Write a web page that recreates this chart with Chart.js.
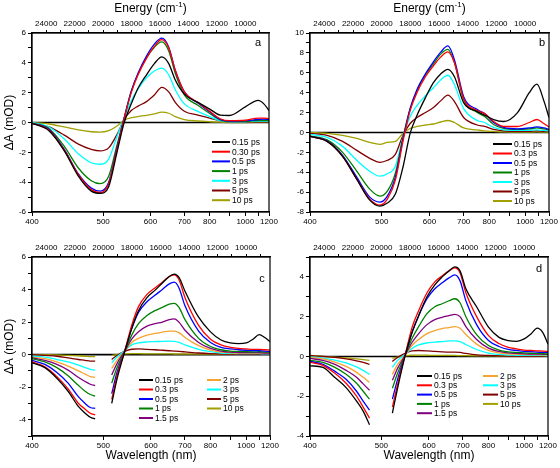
<!DOCTYPE html>
<html>
<head>
<meta charset="utf-8">
<script src="https://cdn.jsdelivr.net/npm/chart.js@4/dist/chart.umd.min.js"></script>
<style>
body { margin: 0; background: #fff; }
#wrap { position: relative; width: 560px; height: 468px; }
canvas { position: absolute; }
</style>
</head>
<body>
<div id="wrap">
  <canvas id="ca" width="280" height="234" style="left:0;top:0"></canvas>
  <canvas id="cb" width="280" height="234" style="left:280px;top:0"></canvas>
  <canvas id="cc" width="280" height="234" style="left:0;top:234px"></canvas>
  <canvas id="cd" width="280" height="234" style="left:280px;top:234px"></canvas>
</div>
<script>
// wavelengths (nm) and dA (mOD)
var wlA = [400, 420, 440, 460, 480, 495, 510, 525, 540, 555, 570, 590, 610, 630, 650, 670, 700, 750, 800, 850, 900, 1000, 1100, 1150, 1200];
var a015 = [-0.05, -0.55, -1.9, -3.6, -4.6, -4.75, -4.3, -2.1, 0.0, 1.25, 2.3, 3.2, 3.95, 4.4, 3.95, 2.85, 1.9, 1.35, 0.9, 0.5, 0.47, 1.05, 1.48, 1.25, 0.8];
var a030 = [-0.05, -0.5, -1.85, -3.5, -4.5, -4.7, -4.1, -1.9, 0.25, 2.0, 3.2, 4.3, 5.1, 5.55, 5.0, 3.5, 2.05, 1.35, 0.75, 0.25, 0.12, 0.15, 0.3, 0.3, 0.25];
var a05 = [-0.05, -0.45, -1.8, -3.45, -4.4, -4.6, -4.0, -1.8, 0.3, 2.1, 3.3, 4.45, 5.25, 5.65, 5.05, 3.5, 2.05, 1.3, 0.7, 0.2, 0.1, 0.12, 0.2, 0.22, 0.2];
var a1 = [-0.05, -0.4, -1.6, -3.05, -3.9, -4.1, -3.6, -1.6, 0.3, 2.1, 3.25, 4.35, 5.05, 5.4, 4.8, 3.3, 1.85, 1.15, 0.6, 0.18, 0.08, 0.08, 0.15, 0.15, 0.15];
var a3 = [0, -0.3, -1.1, -2.1, -2.7, -2.8, -2.45, -1.0, 0.3, 1.45, 2.25, 3.0, 3.45, 3.65, 3.2, 2.2, 1.25, 0.75, 0.4, 0.12, 0.05, 0.05, 0.1, 0.1, 0.1];
var a5 = [0, -0.3, -0.85, -1.45, -1.8, -1.9, -1.7, -0.85, 0.2, 0.8, 1.1, 1.4, 1.85, 2.35, 2.05, 1.35, 0.75, 0.5, 0.3, 0.12, 0.05, 0.03, 0.05, 0.05, 0.05];
var a10 = [0, -0.1, -0.3, -0.5, -0.62, -0.65, -0.55, -0.25, 0.15, 0.32, 0.4, 0.48, 0.58, 0.7, 0.62, 0.4, 0.2, 0.1, 0.05, 0.02, 0, 0, 0.02, 0.02, 0.02];
var labelsA = ['0.15 ps', '0.30 ps', '0.5 ps', '1 ps', '3 ps', '5 ps', '10 ps'];

var wlB = [400, 420, 440, 460, 480, 497, 510, 525, 540, 555, 570, 590, 610, 630, 650, 670, 700, 750, 780, 820, 870, 950, 1030, 1090, 1150, 1200];
var b015 = [-0.4, -0.9, -2.4, -4.7, -6.8, -7.4, -7.1, -6.2, -3.5, -0.1, 1.7, 3.5, 5.0, 5.9, 6.35, 5.6, 3.0, 2.1, 1.75, 1.3, 1.1, 2.0, 4.0, 4.85, 3.2, 1.5];
var b03 = [-0.4, -0.9, -2.4, -4.7, -6.7, -7.3, -6.7, -4.8, -0.9, 2.2, 4.0, 5.6, 6.7, 7.6, 8.1, 7.0, 3.4, 2.2, 1.9, 1.1, 0.6, 0.6, 1.0, 1.3, 0.9, 0.55];
var b05 = [-0.4, -0.85, -2.3, -4.5, -6.5, -7.0, -6.4, -4.5, -0.7, 2.4, 4.3, 5.9, 7.1, 8.1, 8.7, 7.3, 3.6, 2.3, 1.9, 1.0, 0.5, 0.35, 0.45, 0.55, 0.45, 0.3];
var b1 = [-0.35, -0.75, -2.0, -3.9, -5.7, -6.4, -5.9, -4.1, -0.5, 2.4, 4.2, 5.8, 6.9, 7.9, 8.35, 7.0, 3.3, 2.0, 1.6, 0.8, 0.4, 0.3, 0.35, 0.45, 0.35, 0.25];
var b3 = [-0.2, -0.5, -1.4, -2.8, -3.9, -4.4, -4.15, -3.4, -0.5, 1.6, 2.7, 3.7, 4.5, 5.3, 5.75, 4.8, 2.4, 1.2, 1.0, 0.5, 0.25, 0.2, 0.2, 0.25, 0.2, 0.15];
var b5 = [-0.1, -0.3, -0.9, -1.8, -2.6, -3.0, -2.8, -2.2, -0.3, 0.9, 1.5, 2.0, 2.5, 3.2, 3.75, 3.1, 1.5, 0.75, 0.6, 0.3, 0.15, 0.1, 0.1, 0.15, 0.1, 0.1];
var b10 = [0, -0.1, -0.3, -0.6, -1.0, -1.2, -1.0, -0.9, -0.1, 0.4, 0.6, 0.75, 0.85, 1.05, 1.2, 1.0, 0.45, 0.25, 0.15, 0.1, 0.05, 0.03, 0.03, 0.05, 0.03, 0.03];
var labelsB = ['0.15 ps', '0.3 ps', '0.5 ps', '1 ps', '3 ps', '5 ps', '10 ps'];

// null = detection gap around the pump
var wlC = [400, 415, 430, 445, 460, 470, 478, 486, 500, 515, 525, 540, 555, 570, 590, 610, 630, 650, 665, 680, 700, 750, 800, 850, 900, 950, 1000, 1050, 1100, 1150, 1200];
var c015 = [-0.5, -0.8, -1.45, -2.25, -3.2, -3.6, -3.85, -3.95, null, -3.0, -1.5, 0.15, 1.6, 2.7, 3.5, 3.95, 4.4, 4.8, 4.95, 4.75, 3.9, 2.3, 1.4, 0.9, 0.72, 0.68, 0.72, 0.95, 1.23, 1.05, 0.8];
var c03 = [-0.45, -0.75, -1.35, -2.1, -3.0, -3.35, -3.6, -3.7, null, -2.75, -1.3, 0.2, 1.8, 2.95, 3.7, 4.1, 4.45, 4.8, 4.9, 4.6, 3.5, 1.8, 0.95, 0.6, 0.45, 0.38, 0.35, 0.32, 0.32, 0.3, 0.28];
var c05 = [-0.35, -0.6, -1.1, -1.75, -2.6, -3.0, -3.25, -3.3, null, -2.4, -1.1, 0.2, 1.6, 2.6, 3.25, 3.65, 4.0, 4.35, 4.45, 4.1, 3.0, 1.45, 0.75, 0.45, 0.35, 0.3, 0.27, 0.25, 0.25, 0.22, 0.2];
var c1 = [-0.25, -0.45, -0.8, -1.3, -1.9, -2.25, -2.45, -2.55, null, -1.75, -0.8, 0.2, 1.2, 1.9, 2.4, 2.7, 2.9, 3.1, 3.15, 2.9, 2.15, 1.0, 0.5, 0.3, 0.22, 0.2, 0.18, 0.17, 0.18, 0.16, 0.15];
var c15 = [-0.2, -0.35, -0.6, -0.95, -1.4, -1.65, -1.82, -1.9, null, -1.25, -0.55, 0.2, 0.95, 1.4, 1.75, 1.9, 2.0, 2.15, 2.2, 2.0, 1.5, 0.75, 0.38, 0.22, 0.15, 0.13, 0.12, 0.12, 0.12, 0.1, 0.1];
var c2 = [-0.15, -0.25, -0.45, -0.7, -1.0, -1.2, -1.35, -1.4, null, -0.85, -0.35, 0.2, 0.75, 1.0, 1.2, 1.3, 1.38, 1.45, 1.45, 1.35, 1.05, 0.55, 0.28, 0.16, 0.12, 0.1, 0.1, 0.09, 0.1, 0.08, 0.08];
var c3 = [-0.1, -0.15, -0.3, -0.45, -0.65, -0.8, -0.9, -0.95, null, -0.5, -0.15, 0.25, 0.6, 0.72, 0.78, 0.8, 0.82, 0.83, 0.82, 0.75, 0.6, 0.33, 0.18, 0.1, 0.08, 0.06, 0.06, 0.06, 0.06, 0.05, 0.05];
var c5 = [0, -0.05, -0.1, -0.2, -0.3, -0.35, -0.4, -0.4, null, -0.3, -0.05, 0.2, 0.33, 0.35, 0.32, 0.3, 0.27, 0.24, 0.22, 0.2, 0.17, 0.1, 0.06, 0.04, 0.03, 0.02, 0.02, 0.02, 0.02, 0.02, 0.02];
var c10 = [0, 0, -0.02, -0.05, -0.08, -0.1, -0.12, -0.12, null, -0.05, 0, 0.05, 0.06, 0.06, 0.05, 0.05, 0.05, 0.05, 0.04, 0.04, 0.04, 0.03, 0.03, 0.02, 0.02, 0.02, 0.02, 0.02, 0.02, 0.02, 0.02];

var wlD = [400, 415, 430, 445, 460, 470, 480, 500, 520, 530, 545, 560, 575, 595, 615, 635, 655, 673, 690, 710, 750, 800, 850, 900, 950, 1000, 1050, 1100, 1150, 1200];
var d015 = [-0.47, -0.55, -1.06, -1.57, -2.25, -2.75, -3.43, null, -2.85, -1.6, 0.0, 1.2, 2.05, 3.0, 3.6, 4.0, 4.3, 4.5, 4.3, 3.4, 2.5, 1.47, 0.96, 0.8, 0.76, 0.88, 1.13, 1.42, 1.2, 0.62];
var d03 = [-0.3, -0.45, -0.85, -1.35, -2.0, -2.55, -3.1, null, -2.55, -1.4, 0.05, 1.45, 2.3, 3.2, 3.75, 4.05, 4.3, 4.45, 4.2, 3.2, 2.0, 1.05, 0.65, 0.45, 0.38, 0.32, 0.3, 0.28, 0.27, 0.25];
var d05 = [-0.25, -0.4, -0.75, -1.15, -1.75, -2.25, -2.7, null, -2.15, -1.15, 0.05, 1.2, 2.05, 2.9, 3.4, 3.7, 3.95, 4.1, 3.8, 2.8, 1.6, 0.8, 0.5, 0.35, 0.3, 0.26, 0.24, 0.22, 0.2, 0.2];
var d1 = [-0.2, -0.3, -0.55, -0.9, -1.35, -1.75, -2.15, null, -1.6, -0.85, 0.05, 0.9, 1.5, 2.15, 2.5, 2.65, 2.8, 2.9, 2.7, 2.0, 1.1, 0.55, 0.32, 0.23, 0.2, 0.18, 0.16, 0.15, 0.14, 0.13];
var d15 = [-0.1, -0.2, -0.4, -0.7, -1.05, -1.38, -1.7, null, -1.2, -0.6, 0.05, 0.7, 1.15, 1.6, 1.85, 1.97, 2.05, 2.12, 2.0, 1.5, 0.85, 0.42, 0.25, 0.18, 0.15, 0.13, 0.12, 0.12, 0.11, 0.1];
var d2 = [-0.05, -0.12, -0.28, -0.5, -0.8, -1.05, -1.3, null, -0.9, -0.4, 0.05, 0.55, 0.85, 1.15, 1.3, 1.4, 1.45, 1.5, 1.42, 1.1, 0.62, 0.3, 0.18, 0.13, 0.11, 0.1, 0.09, 0.09, 0.08, 0.08];
var d3 = [-0.02, -0.08, -0.18, -0.32, -0.52, -0.7, -0.9, null, -0.55, -0.2, 0.1, 0.4, 0.58, 0.68, 0.72, 0.75, 0.78, 0.78, 0.75, 0.6, 0.35, 0.17, 0.1, 0.07, 0.06, 0.05, 0.05, 0.05, 0.05, 0.04];
var d5 = [0.05, 0, -0.05, -0.12, -0.22, -0.3, -0.4, null, -0.25, -0.05, 0.15, 0.28, 0.3, 0.28, 0.25, 0.23, 0.22, 0.22, 0.2, 0.15, 0.08, 0.05, 0.03, 0.02, 0.02, 0.02, 0.02, 0.02, 0.02, 0.02];
var d10 = [0.03, 0, -0.03, -0.07, -0.12, -0.16, -0.2, null, -0.1, -0.03, 0.03, 0.06, 0.07, 0.06, 0.05, 0.05, 0.05, 0.05, 0.04, 0.04, 0.03, 0.03, 0.02, 0.02, 0.02, 0.02, 0.02, 0.02, 0.02, 0.02];
var labelsCD = ['0.15 ps', '0.3 ps', '0.5 ps', '1 ps', '1.5 ps', '2 ps', '3 ps', '5 ps', '10 ps'];

// axis ticks
var wlTicks = [400, 500, 600, 700, 800, 900, 1000, 1100, 1200];
var wlLabels = [400, 500, 600, 700, 800, 1000, 1200];
var energyTicks = [24000, 23000, 22000, 21000, 20000, 19000, 18000, 17000, 16000, 15000, 14000, 13000, 12000, 11000, 10000, 9000];

var colors7 = ['#000000', '#ff0000', '#0000ff', '#008000', '#00ffff', '#800000', '#a0a000'];
var colors9 = ['#000000', '#ff0000', '#0000ff', '#008000', '#800080', '#f5a431', '#00ffff', '#800000', '#a0a000'];

var FONT = '"Liberation Sans", Arial, sans-serif';
Chart.defaults.font.family = FONT;
Chart.defaults.color = '#000';

var deco = {
    id: 'deco',
    beforeDatasetsDraw: function(chart) {
        var ctx = chart.ctx, area = chart.chartArea;
        var y0 = chart.scales.y.getPixelForValue(0);
        ctx.save();
        ctx.strokeStyle = '#000';
        ctx.lineWidth = 1.6;
        ctx.beginPath();
        ctx.moveTo(area.left, y0);
        ctx.lineTo(area.right, y0);
        ctx.stroke();
        ctx.restore();
    },
    afterDraw: function(chart) {
        var ctx = chart.ctx, area = chart.chartArea;
        var o = chart.options.plugins.deco;
        ctx.save();
        ctx.strokeStyle = '#000';
        ctx.lineWidth = 1.2;
        ctx.strokeRect(area.left, area.top, area.right - area.left, area.bottom - area.top);

        ctx.fillStyle = '#000';
        ctx.font = '11px ' + FONT;
        ctx.textAlign = 'center';
        ctx.textBaseline = 'middle';
        ctx.fillText(o.letter[0], o.letter[1], o.letter[2]);

        if (o.energyTitle) {
            var cx = (area.left + area.right) / 2;
            ctx.font = '12px ' + FONT;
            var w1 = ctx.measureText('Energy (cm').width;
            var w3 = ctx.measureText(')').width;
            ctx.font = '8px ' + FONT;
            var w2 = ctx.measureText('-1').width;
            var x = cx - (w1 + w2 + w3) / 2;
            ctx.textAlign = 'left';
            ctx.font = '12px ' + FONT;
            ctx.fillText('Energy (cm', x, 9);
            ctx.font = '8px ' + FONT;
            ctx.fillText('-1', x + w1, 5);
            ctx.font = '12px ' + FONT;
            ctx.fillText(')', x + w1 + w2, 9);
        }

        var lg = o.legend;
        ctx.font = '8.5px ' + FONT;
        ctx.textAlign = 'left';
        chart.data.datasets.forEach(function(ds, i) {
            var col = Math.floor(i / lg.rows), row = i % lg.rows;
            var x = lg.x[col], y = lg.y0 + row * lg.dy;
            ctx.strokeStyle = ds.borderColor;
            ctx.lineWidth = 2;
            ctx.beginPath();
            ctx.moveTo(x, y);
            ctx.lineTo(x + lg.len, y);
            ctx.stroke();
            ctx.fillStyle = '#000';
            ctx.fillText(ds.label, x + lg.len + 2, y + 0.5);
        });
        ctx.restore();
    }
};

function makePanel(id, p) {
    var datasets = p.series.map(function(s, i) {
        return {
            label: p.labels[i],
            data: p.wl.map(function(w, k) { return { x: 1e7 / w, y: s[k] }; }),
            borderColor: p.colors[i],
            backgroundColor: p.colors[i],
            borderWidth: 1.3,
            pointRadius: 0,
            cubicInterpolationMode: 'monotone',
            spanGaps: false
        };
    });
    new Chart(document.getElementById(id), {
        type: 'line',
        data: { datasets: datasets },
        options: {
            responsive: false,
            animation: false,
            layout: { padding: { left: 0, right: p.rightPad, top: 0, bottom: 0 } },
            plugins: {
                legend: { display: false },
                tooltip: { enabled: false },
                deco: { letter: p.letter, energyTitle: p.energyTitle, legend: p.legend }
            },
            scales: {
                x: {
                    type: 'linear', position: 'bottom',
                    min: 1e7 / 1200, max: 25000, reverse: true,
                    afterBuildTicks: function(s) { s.ticks = wlTicks.map(function(w) { return { value: 1e7 / w }; }); },
                    afterFit: function(s) { s.height = p.bottomH; },
                    ticks: {
                        autoSkip: false, maxRotation: 0, padding: 1, font: { size: 8 },
                        callback: function(v) {
                            var w = Math.round(1e7 / v);
                            return wlLabels.indexOf(w) >= 0 ? String(w) : '';
                        }
                    },
                    grid: { drawOnChartArea: false, tickLength: 4, color: '#000' },
                    border: { color: '#000', width: 1.2 },
                    title: { display: p.bottomTitle, text: 'Wavelength (nm)', font: { size: 12 }, padding: { top: 0, bottom: 5 } }
                },
                x2: {
                    type: 'linear', position: 'top',
                    min: 1e7 / 1200, max: 25000, reverse: true,
                    afterBuildTicks: function(s) { s.ticks = energyTicks.map(function(e) { return { value: e }; }); },
                    afterFit: function(s) { s.height = p.topH; },
                    ticks: {
                        autoSkip: false, maxRotation: 0, padding: 1, font: { size: 8 },
                        callback: function(v) { return v % 2000 === 0 ? String(v) : ''; }
                    },
                    grid: { drawOnChartArea: false, tickLength: 3, color: '#000' },
                    border: { color: '#000', width: 1.2 }
                },
                y: {
                    min: p.yMin, max: p.yMax,
                    afterFit: function(s) { s.width = p.leftW; },
                    ticks: {
                        stepSize: 1, autoSkip: false, padding: 2, font: { size: 8 },
                        callback: function(v) { return v % 2 === 0 ? String(v) : ''; }
                    },
                    grid: { drawOnChartArea: false, tickLength: 4, color: '#000' },
                    border: { color: '#000', width: 1.2 },
                    title: { display: p.yTitle, text: '\u0394A (mOD)', font: { size: 12 }, padding: { top: 2, bottom: 0 } }
                }
            }
        },
        plugins: [deco]
    });
}

makePanel('ca', {
    wl: wlA, series: [a015, a030, a05, a1, a3, a5, a10], labels: labelsA, colors: colors7,
    yMin: -6, yMax: 6, leftW: 32, rightPad: 11, topH: 33, bottomH: 22,
    yTitle: true, energyTitle: true, bottomTitle: false, letter: ['a', 258, 43],
    legend: { x: [212], len: 18, y0: 142, dy: 9.7, rows: 7 }
});
makePanel('cb', {
    wl: wlB, series: [b015, b03, b05, b1, b3, b5, b10], labels: labelsB, colors: colors7,
    yMin: -8, yMax: 10, leftW: 30, rightPad: 11, topH: 33, bottomH: 22,
    yTitle: false, energyTitle: true, bottomTitle: false, letter: ['b', 262, 43],
    legend: { x: [213], len: 19, y0: 144, dy: 9.5, rows: 7 }
});
makePanel('cc', {
    wl: wlC, series: [c015, c03, c05, c1, c15, c2, c3, c5, c10], labels: labelsCD, colors: colors9,
    yMin: -5, yMax: 6, leftW: 32, rightPad: 10, topH: 23, bottomH: 32,
    yTitle: true, energyTitle: false, bottomTitle: true, letter: ['c', 262, 45],
    legend: { x: [139, 207], len: 14, y0: 146, dy: 9.5, rows: 5 }
});
makePanel('cd', {
    wl: wlD, series: [d015, d03, d05, d1, d15, d2, d3, d5, d10], labels: labelsCD, colors: colors9,
    yMin: -4, yMax: 5, leftW: 30, rightPad: 12, topH: 23, bottomH: 32,
    yTitle: false, energyTitle: false, bottomTitle: true, letter: ['d', 259, 35],
    legend: { x: [137, 203], len: 15, y0: 142, dy: 9.3, rows: 5 }
});
</script>
</body>
</html>
